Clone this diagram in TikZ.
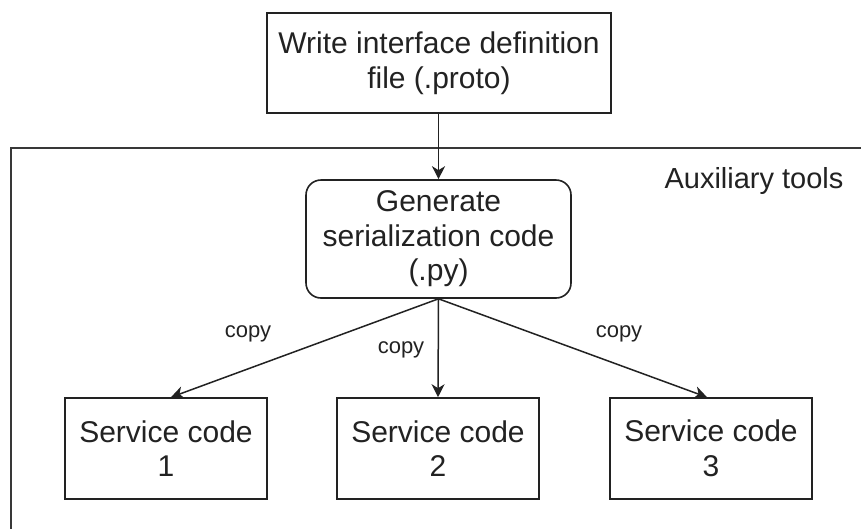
\documentclass[tikz,border=0pt]{standalone}
\usepackage{fontspec}
\setmainfont{Liberation Sans}
\usetikzlibrary{arrows.meta}
\definecolor{ink}{HTML}{222222}
\tikzset{
  box/.style={draw=ink, line width=1.6pt, align=center, inner sep=0pt,
    font=\fontsize{30}{34.5}\selectfont, text=ink},
  codebox/.style={box, minimum width=202pt, minimum height=101pt},
  genbox/.style={box, rounded corners=15pt, minimum width=265pt, minimum height=118pt},
  flow/.style={draw=ink, line width=1.5pt, -{Stealth[length=13pt,width=13pt,inset=4pt]}},
  edgelabel/.style={font=\fontsize{22}{25}\selectfont, text=ink, inner sep=0pt},
  grouplabel/.style={font=\fontsize{29}{33}\selectfont, text=ink, inner sep=0pt}
}
\begin{document}
\begin{tikzpicture}[x=1pt, y=-1pt]
  \useasboundingbox (0,0) rectangle (861,528);
  \fill[white] (0,0) rectangle (861,528);
  \begin{scope}
    \clip (0,0) rectangle (861,528);
    % group frame for the auxiliary tools (runs past the right and bottom edges)
    \node (aux) [draw=ink!90, line width=2pt, minimum width=900pt, minimum height=420pt,
      anchor=north west, inner sep=0pt] at (10,147) {};
  \end{scope}
  \node (auxlabel) [grouplabel] at (754,181) {Auxiliary tools};

  \node (proto) [box, minimum width=344pt, minimum height=100pt] at (439,63)
    {Write interface definition\\file (.proto)};
  \node (gen) [genbox] at (438.5,239) {Generate\\serialization code\\(.py)};

  \node (svc1) [codebox] at (166,448.5) {Service code\\1};
  \node (svc2) [codebox] at (438,448.5) {Service code\\2};
  \node (svc3) [codebox] at (711,448.5) {Service code\\3};

  \draw[flow] (proto.south -| gen.north) -- (gen.north);
  \draw[flow] (gen.south) -- ([xshift=5pt]svc1.north);
  \draw[flow] (gen.south) -- (svc2.north);
  \draw[flow] (gen.south) -- ([xshift=-4pt]svc3.north);

  \node (copy1) [edgelabel] at (248,334) {copy};
  \node (copy2) [edgelabel] at (401,350) {copy};
  \node (copy3) [edgelabel] at (619,334) {copy};
\end{tikzpicture}
\end{document}
